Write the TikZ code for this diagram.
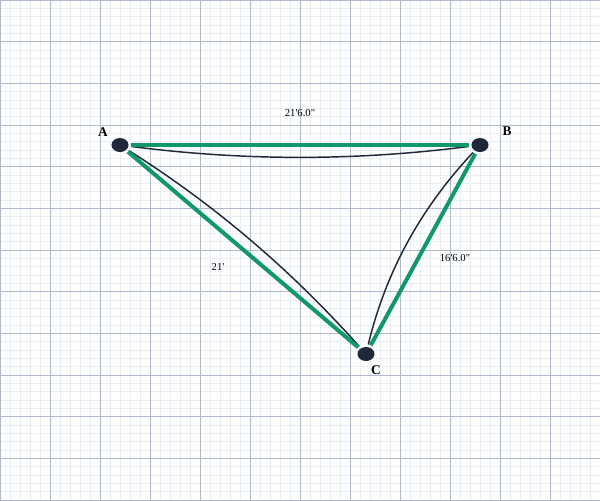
\documentclass[tikz,border=0pt]{standalone}
\usepackage{fontspec}
\setmainfont{Liberation Serif}
\newfontfamily\plainserif{Liberation Serif}
\usetikzlibrary{shapes.geometric}
\definecolor{gridmajor}{RGB}{176,186,204}
\definecolor{gridminor}{RGB}{234,238,244}
\definecolor{dotfill}{RGB}{30,40,56}
\definecolor{edgegreen}{RGB}{16,152,106}
\tikzset{
  minorline/.style={draw=gridminor,line width=0.4pt},
  majorline/.style={draw=gridmajor,line width=0.65pt},
  vertex/.style={ellipse,fill=dotfill,minimum width=12.8pt,minimum height=10.5pt,inner sep=0pt,outer sep=2pt},
  vlabel/.style={font=\plainserif\fontsize{10pt}{12pt}\selectfont\bfseries,text=black,inner sep=0pt},
  elabel/.style={font=\plainserif\fontsize{8pt}{9pt}\selectfont,text=black,inner sep=0pt},
  greenedge/.style={draw=edgegreen,line width=3pt},
  darkedge/.style={draw=dotfill,line width=1.1pt}
}
\begin{document}
\begin{tikzpicture}[x=0.75pt,y=-0.75pt]
\useasboundingbox (0,0) rectangle (600,500);
\fill[white] (0,0) rectangle (600,500);
\foreach \i in {0,...,60} \draw[minorline] (\i*10,0) -- (\i*10,500);
\foreach \j in {0,...,60} \draw[minorline] (0,\j*8.333333) -- (600,\j*8.333333);
\foreach \i in {0,...,12} \draw[majorline] (\i*50,0) -- (\i*50,500);
\foreach \j in {0,...,12} \draw[majorline] (0,\j*41.666667) -- (600,\j*41.666667);

\node[vertex] (A) at (120,145) {};
\node[vertex] (B) at (480,145) {};
\node[vertex] (C) at (366,354) {};

\coordinate (cab1) at (244,161);
\coordinate (cab2) at (356,161);
\coordinate (cac1) at (215,205);
\coordinate (cac2) at (291,270);
\coordinate (cbc1) at (421,208);
\coordinate (cbc2) at (386,271);

\draw[darkedge] (A) .. controls (cab1) and (cab2) .. (B);
\draw[darkedge] (A) .. controls (cac1) and (cac2) .. (C);
\draw[darkedge] (B) .. controls (cbc1) and (cbc2) .. (C);

\draw[greenedge] (A) -- (B);
\draw[greenedge] (A) -- (C);
\draw[greenedge] (B) -- (C);

\node[vlabel] (lA) at (103,132) {A};
\node[vlabel] (lB) at (507,131) {B};
\node[vlabel] (lC) at (376,370) {C};

\node[elabel] (lab) at (300,113) {21'6.0"};
\node[elabel] (lac) at (218,267) {21'};
\node[elabel] (lbc) at (455,258) {16'6.0"};
\end{tikzpicture}
\end{document}
